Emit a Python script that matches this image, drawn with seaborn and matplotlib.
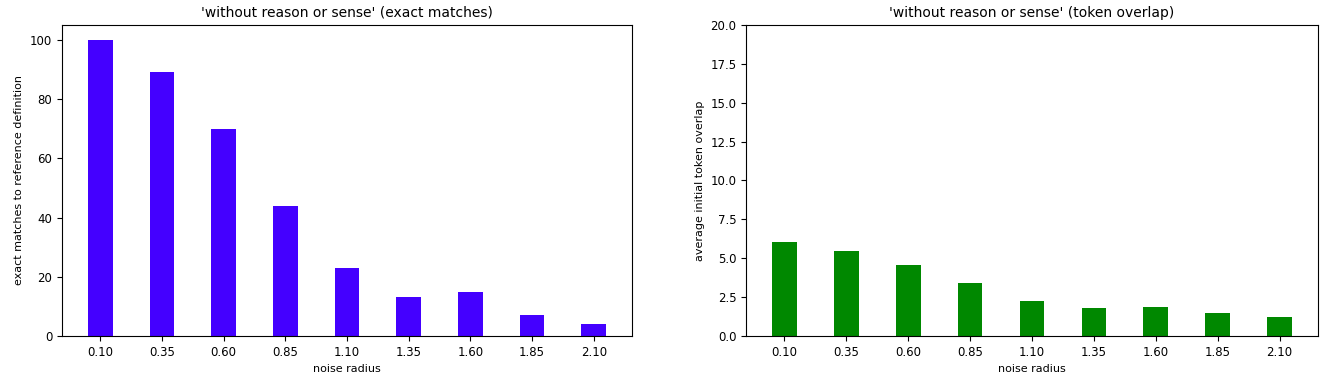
import numpy as np
import pandas as pd
import matplotlib
matplotlib.use("Agg")
import matplotlib.pyplot as plt
import seaborn as sns

radius = ["0.10", "0.35", "0.60", "0.85", "1.10", "1.35", "1.60", "1.85", "2.10"]
exact_matches = [100, 89, 70, 44, 23, 13, 15, 7, 4]
token_overlap = [6.04, 5.46, 4.56, 3.38, 2.27, 1.80, 1.86, 1.46, 1.20]

df = pd.DataFrame({"radius": radius, "exact": exact_matches, "overlap": token_overlap})

plt.rcParams["font.family"] = "DejaVu Sans"
fig = plt.figure(figsize=(13.27, 3.77), dpi=100)
ax1 = fig.add_axes([0.0467, 0.1088, 0.4296, 0.8249])
ax2 = fig.add_axes([0.5622, 0.1088, 0.4310, 0.8249])

sns.barplot(data=df, x="radius", y="exact", order=radius, color="#4400ff",
            saturation=1, width=0.4, ax=ax1)
ax1.set_xlim(-0.62, 8.62)
ax1.set_ylim(0, 105)
ax1.set_title("'without reason or sense' (exact matches)", fontsize=10)
ax1.set_xlabel("noise radius", fontsize=8)
ax1.set_ylabel("exact matches to reference definition", fontsize=8)

sns.barplot(data=df, x="radius", y="overlap", order=radius, color="#008800",
            saturation=1, width=0.4, ax=ax2)
ax2.set_xlim(-0.62, 8.62)
ax2.set_ylim(0, 20)
ax2.set_yticks(np.arange(0, 20.1, 2.5))
ax2.set_title("'without reason or sense' (token overlap)", fontsize=10)
ax2.set_xlabel("noise radius", fontsize=8)
ax2.set_ylabel("average initial token overlap", fontsize=8)

for ax in (ax1, ax2):
    ax.tick_params(labelsize=8.5)

fig.savefig("out.png", dpi=100)
